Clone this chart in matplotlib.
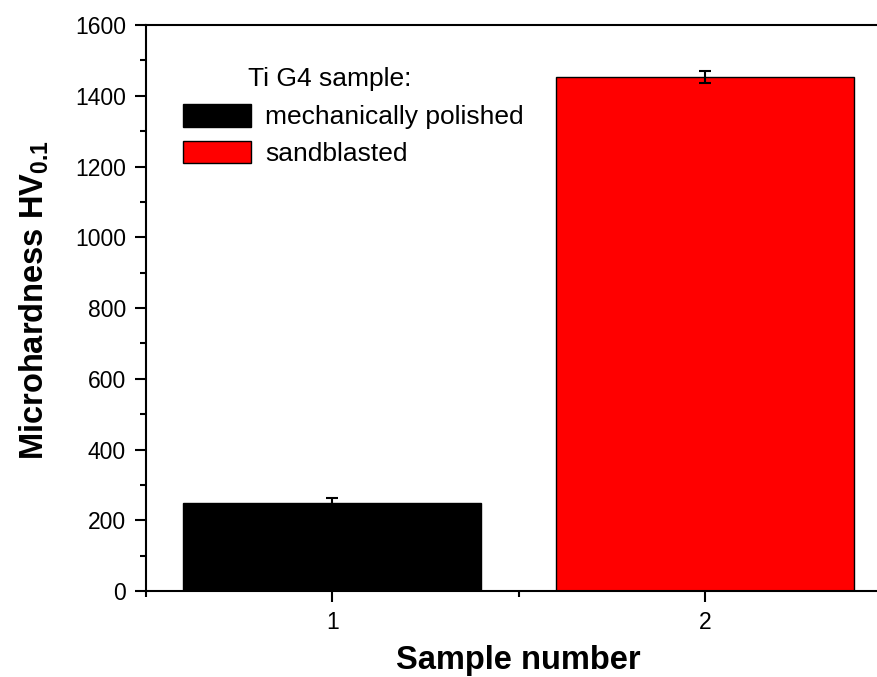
import numpy as np
import matplotlib
matplotlib.use('Agg')
import matplotlib.pyplot as plt
from matplotlib.ticker import MultipleLocator

plt.rcParams['font.family'] = ['Liberation Sans', 'DejaVu Sans']
plt.rcParams['mathtext.fontset'] = 'custom'
plt.rcParams['mathtext.rm'] = 'Liberation Sans'
plt.rcParams['mathtext.bf'] = 'Liberation Sans:bold'

samples = [1, 2]
labels = ['mechanically polished', 'sandblasted']
hardness = [250, 1453]
errors = [12, 17]
colors = ['black', 'red']

fig = plt.figure(figsize=(8.78, 6.77), dpi=100)
ax = fig.add_axes([0.1663, 0.127, 0.849, 0.836])

for x, h, e, c, lab in zip(samples, hardness, errors, colors, labels):
    ax.bar(x, h, width=0.8, color=c, edgecolor='black', linewidth=1.0, label=lab)
    ax.errorbar(x, h, yerr=e, color='black', capsize=4.5, elinewidth=1.5,
                capthick=1.5, fmt='none')

ax.set_xlim(0.5, 2.5)
ax.set_ylim(0, 1600)
ax.set_xticks(samples)
ax.xaxis.set_minor_locator(MultipleLocator(0.5))
ax.yaxis.set_major_locator(MultipleLocator(200))
ax.yaxis.set_minor_locator(MultipleLocator(100))
ax.tick_params(which='major', length=8, width=1.5, labelsize=16.5,
               direction='out', pad=6.5)
ax.tick_params(which='minor', length=4.5, width=1.5, direction='out')
ax.tick_params(axis='y', which='both', right=False)
for s in ax.spines.values():
    s.set_linewidth(1.5)

ax.set_xlabel('Sample number', fontsize=23.5, fontweight='bold')
ax.xaxis.set_label_coords(0.5, -0.0954)
ax.set_ylabel(r'Microhardness HV$_{\mathbf{0.1}}$', fontsize=23.5,
              fontweight='bold')
ax.yaxis.set_label_coords(-0.127, 0.514)

leg = ax.legend(loc='upper left', bbox_to_anchor=(183 / 878, 1 - 104 / 677),
                bbox_transform=fig.transFigure, frameon=False, fontsize=19,
                handlelength=2.58, handleheight=0.95, handletextpad=0.53,
                labelspacing=0.42, borderpad=0, borderaxespad=0)
fig.text(248 / 878, 1 - 79 / 677, 'Ti G4 sample:', fontsize=19,
         ha='left', va='center')

fig.savefig('out.png', dpi=100)
